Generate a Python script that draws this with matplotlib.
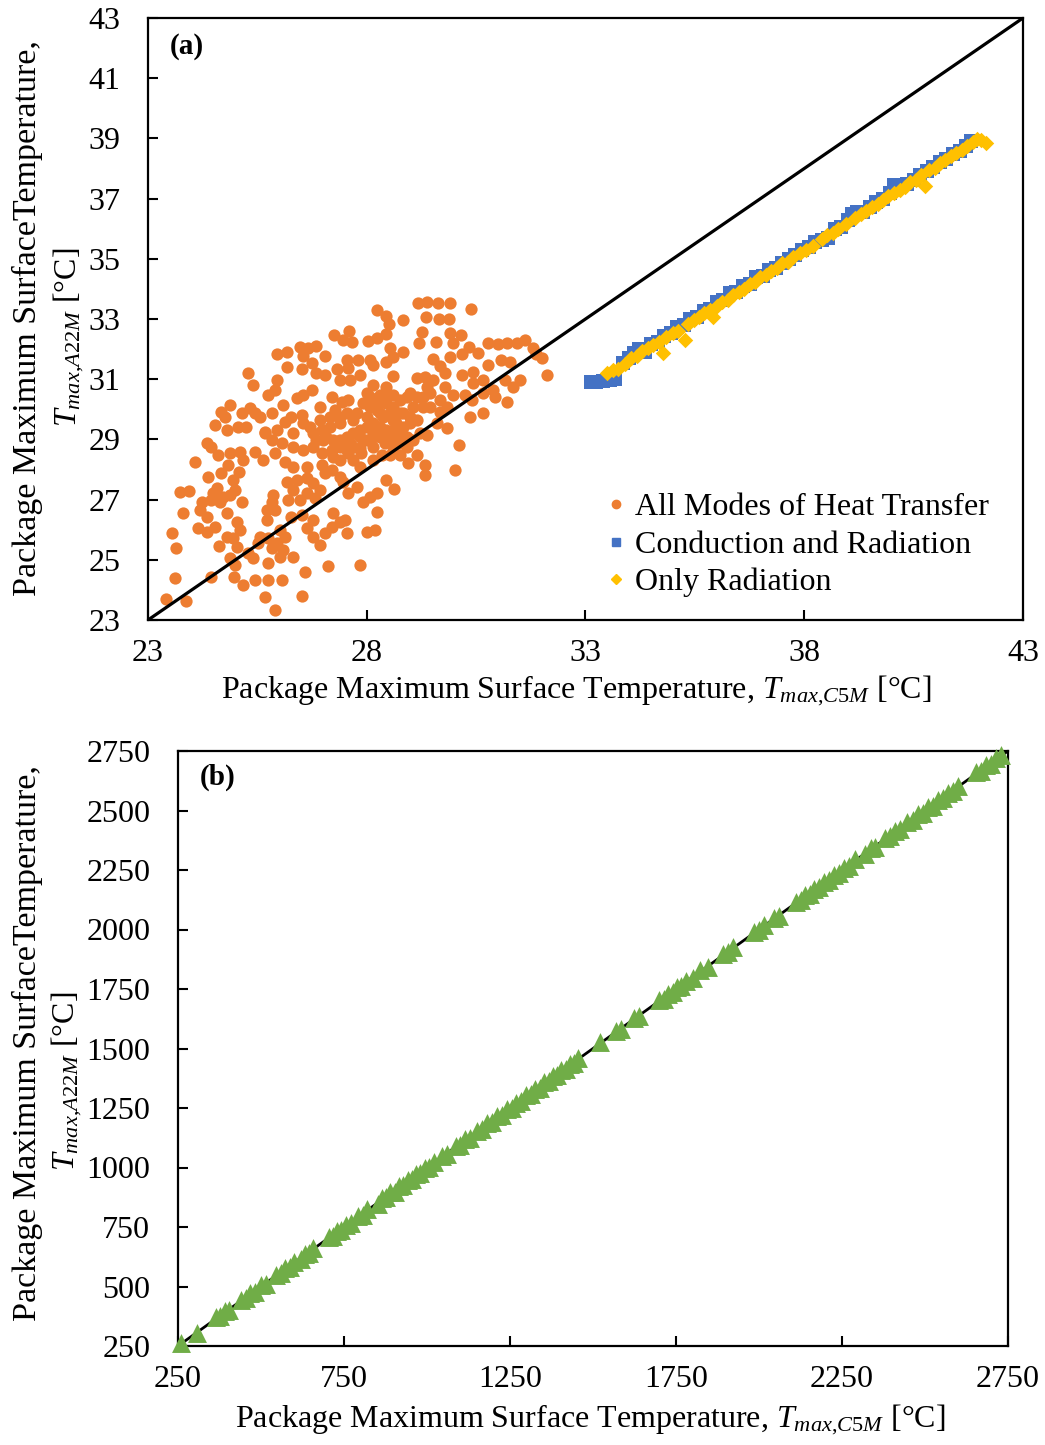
import matplotlib
matplotlib.use("Agg")
import matplotlib.pyplot as plt
from matplotlib.lines import Line2D

plt.rcParams['font.family'] = ['Liberation Serif', 'DejaVu Serif']
plt.rcParams['mathtext.fontset'] = 'custom'
plt.rcParams['mathtext.rm'] = 'Liberation Serif'
plt.rcParams['mathtext.it'] = 'Liberation Serif:italic'
plt.rcParams['mathtext.bf'] = 'Liberation Serif:bold'

# ---------------- data: panel (a) ----------------
all_modes_x = [
    29.18, 29.38, 29.62, 29.90, 30.38, 28.23, 28.44, 28.52, 28.84, 29.35,
    29.66, 29.89, 29.26, 29.90, 30.15, 27.59, 27.25, 27.46, 27.66, 28.02,
    28.24, 28.45, 29.58, 29.20, 29.98, 30.34, 30.78, 31.01, 31.20, 31.43,
    31.62, 31.81, 32.00, 32.11, 31.50, 31.35, 31.20, 30.93, 30.78, 31.08,
    30.55, 30.17, 29.90, 29.52, 29.67, 28.84, 28.53, 28.61, 28.45, 28.15,
    28.07, 27.81, 27.54, 27.58, 27.31, 27.05, 26.85, 26.66, 26.47, 25.94,
    26.17, 26.55, 26.74, 26.17, 26.51, 26.85, 27.05, 27.39, 27.62, 27.85,
    28.15, 28.61, 28.45, 29.14, 29.33, 29.52, 29.79, 30.17, 30.44, 30.66,
    30.44, 30.66, 30.40, 30.25, 29.98, 29.79, 25.29, 25.41, 25.94, 25.75,
    25.90, 26.40, 26.55, 26.74, 26.93, 27.20, 27.43, 27.58, 27.27, 26.93,
    26.70, 26.51, 26.28, 26.09, 25.83, 25.56, 25.33, 25.14, 25.45, 24.87,
    24.68, 24.53, 24.76, 24.80, 25.06, 25.25, 25.67, 25.94, 26.13, 26.32,
    26.55, 26.78, 26.97, 27.16, 27.39, 27.69, 28.00, 28.30, 28.61, 28.84,
    29.06, 29.29, 29.45, 29.67, 29.83, 29.60, 29.83, 29.37, 28.99, 28.61,
    28.42, 28.15, 27.85, 27.62, 27.39, 27.20, 26.97, 26.78, 26.55, 26.32,
    26.06, 25.83, 25.67, 25.45, 25.64, 25.90, 26.13, 26.32, 26.63, 26.97,
    27.05, 27.20, 27.39, 27.69, 27.88, 28.15, 28.34, 28.53, 28.76, 28.95,
    29.14, 29.33, 29.33, 30.02, 30.12, 30.36, 30.66, 30.89, 31.16, 31.27,
    31.88, 24.34, 24.45, 24.61, 24.87, 25.10, 25.18, 24.07, 24.38, 24.68,
    24.95, 25.08, 24.84, 24.57, 24.49, 24.72, 24.87, 24.99, 25.14, 24.65,
    24.45, 24.23, 24.19, 23.81, 23.73, 23.94, 24.34, 24.53, 24.80, 25.03,
    25.10, 24.80, 24.95, 25.03, 24.63, 24.34, 24.15, 23.54, 23.65, 23.62,
    23.41, 23.88, 24.45, 24.87, 24.99, 25.41, 25.29, 25.52, 25.56, 25.75,
    25.83, 25.94, 25.75, 26.02, 26.09, 26.13, 26.32, 26.06, 25.75, 25.45,
    25.18, 24.97, 25.67, 25.90, 26.60, 26.53, 27.12, 27.85, 26.63, 26.78,
    26.93, 27.05, 27.20, 27.39, 27.54, 27.50, 27.24, 26.78, 26.51, 26.28,
    26.21, 26.47, 26.63, 26.82, 26.93, 26.78, 26.63, 26.40, 26.17, 26.32,
    25.86, 25.83, 25.71, 25.90, 25.71, 26.02, 27.46, 27.58, 27.77, 27.92,
    28.07, 28.23, 28.23, 28.00, 28.19, 28.45, 28.62, 27.85, 27.58, 28.15,
    28.30, 28.45, 28.61, 28.76, 28.91, 28.07, 28.23, 28.38, 28.53, 28.68,
    28.84, 28.99, 28.15, 28.30, 28.45, 28.61, 28.76, 28.91, 28.00, 27.85,
    27.69, 27.54, 27.39, 27.24, 27.08, 27.24, 27.39, 27.54, 27.69, 28.00,
    28.15, 28.30, 27.85, 28.15, 27.77, 27.54, 27.39, 27.16, 27.01, 26.85,
    29.14, 29.22, 29.06, 28.91, 28.76, 28.61, 28.45, 28.76, 29.29, 29.14,
    28.99, 29.37, 29.45, 29.67, 28.61, 28.45, 28.30, 28.07, 27.92, 28.00,
]
all_modes_y = [
    33.52, 33.57, 33.52, 33.54, 33.32, 33.30, 33.10, 32.83, 32.97, 33.06,
    32.99, 33.00, 32.56, 32.55, 32.47, 32.61, 32.47, 32.30, 32.24, 32.28,
    32.36, 32.50, 32.23, 32.21, 32.19, 32.08, 32.21, 32.17, 32.21, 32.19,
    32.30, 32.03, 31.69, 31.14, 30.97, 30.75, 30.25, 30.42, 31.47, 31.64,
    31.86, 31.83, 31.73, 31.66, 31.44, 31.92, 32.03, 31.73, 31.58, 31.47,
    31.64, 31.64, 31.64, 31.36, 31.33, 31.77, 32.10, 32.03, 32.08, 31.83,
    31.92, 31.77, 31.53, 31.40, 31.33, 31.20, 31.14, 30.97, 30.97, 31.14,
    30.81, 31.11, 30.75, 31.03, 31.06, 30.97, 31.20, 31.14, 31.25, 30.97,
    30.86, 30.53, 30.31, 30.48, 30.48, 30.75, 31.20, 30.81, 30.97, 30.48,
    30.64, 30.37, 30.48, 30.64, 30.09, 30.42, 30.25, 30.31, 29.98, 29.65,
    29.42, 29.81, 29.76, 30.14, 29.87, 29.76, 30.03, 29.87, 29.87, 30.14,
    29.92, 29.48, 29.76, 29.31, 29.42, 29.42, 29.26, 29.31, 29.59, 29.20,
    29.53, 29.20, 29.31, 29.42, 29.53, 29.65, 29.76, 29.87, 29.65, 29.87,
    30.09, 30.42, 30.09, 29.92, 30.09, 29.53, 29.37, 29.15, 29.53, 29.09,
    28.87, 28.76, 28.70, 28.87, 28.98, 28.65, 28.54, 28.76, 28.65, 28.76,
    28.87, 28.98, 29.20, 28.59, 28.32, 28.54, 28.26, 28.09, 28.09, 28.15,
    27.87, 27.98, 27.76, 28.32, 28.54, 28.32, 28.48, 28.48, 28.48, 28.21,
    28.48, 28.15, 27.82, 27.98, 28.81, 29.76, 29.87, 30.64, 30.97, 31.58,
    31.83, 28.87, 28.76, 28.48, 28.54, 28.59, 28.32, 28.26, 27.76, 27.87,
    27.65, 27.93, 28.15, 27.37, 27.21, 27.10, 27.15, 27.32, 26.93, 26.93,
    26.99, 26.93, 26.65, 26.54, 27.26, 27.30, 26.43, 26.10, 26.54, 26.27,
    25.99, 25.77, 25.71, 25.44, 25.46, 25.93, 26.05, 25.88, 25.38, 24.38,
    23.69, 23.64, 24.44, 25.05, 24.83, 25.05, 25.22, 25.55, 25.77, 25.71,
    25.38, 25.55, 24.88, 25.10, 25.33, 25.77, 25.10, 24.33, 24.33, 24.33,
    24.16, 24.44, 23.78, 23.33, 24.61, 23.80, 24.80, 24.83, 26.05, 25.77,
    25.49, 25.88, 26.10, 26.27, 25.88, 26.32, 26.54, 26.32, 26.49, 26.43,
    26.99, 26.99, 27.21, 27.04, 27.32, 27.54, 27.71, 27.65, 27.60, 27.32,
    27.15, 26.93, 26.65, 26.65, 26.32, 25.99, 27.60, 27.21, 27.43, 26.93,
    27.10, 27.21, 26.60, 25.93, 25.99, 27.65, 27.34, 28.09, 28.54, 30.31,
    30.31, 30.20, 30.09, 30.31, 30.42, 30.09, 29.98, 29.76, 29.87, 29.53,
    29.42, 29.76, 29.53, 29.42, 29.31, 29.31, 29.20, 29.09, 29.42, 29.31,
    29.20, 29.09, 28.76, 28.98, 29.09, 28.43, 28.32, 28.65, 28.76, 28.98,
    29.09, 29.09, 29.09, 29.20, 29.87, 29.87, 29.76, 29.76, 28.98, 28.98,
    29.65, 29.20, 28.98, 28.76, 28.87, 28.76, 28.98, 29.87, 30.09, 30.42,
    30.53, 30.75, 30.53, 30.31, 30.48, 30.42, 30.48, 30.42, 30.20, 30.53,
]

cond_rad_x = [
    33.12, 33.25, 33.40, 33.55, 33.68, 33.85, 34.00, 34.10, 34.22, 34.35,
    34.50, 34.65, 34.80, 34.95, 35.10, 35.25, 35.40, 35.55, 35.70, 35.85,
    36.00, 36.15, 36.30, 36.45, 36.60, 36.75, 36.90, 37.05, 37.20, 37.35,
    37.50, 37.65, 37.80, 37.95, 38.10, 38.25, 38.40, 38.55, 38.70, 38.85,
    39.00, 39.10, 39.20, 39.35, 39.50, 39.65, 39.80, 39.95, 40.05, 40.20,
    40.35, 40.50, 40.65, 40.80, 40.95, 41.10, 41.25, 41.40, 41.55, 41.70,
    41.82,
]
cond_rad_y = [
    30.90, 30.92, 30.94, 30.97, 31.02, 31.55, 31.72, 31.88, 32.00, 31.92,
    32.18, 32.24, 32.45, 32.52, 32.72, 32.80, 33.00, 33.06, 33.28, 33.34,
    33.55, 33.62, 33.86, 33.90, 34.10, 34.16, 34.40, 34.44, 34.62, 34.70,
    34.86, 34.98, 35.12, 35.30, 35.38, 35.55, 35.62, 35.70, 35.98, 36.05,
    36.28, 36.50, 36.55, 36.55, 36.72, 36.90, 37.00, 37.20, 37.45, 37.42,
    37.50, 37.62, 37.80, 37.92, 38.05, 38.22, 38.30, 38.48, 38.58, 38.75,
    38.92,
]

radiation_x = [
    33.50, 33.62, 33.75, 33.90, 34.05, 34.18, 34.30, 34.42, 34.55, 34.68,
    34.77, 34.85, 35.00, 35.12, 35.27, 35.35, 35.48, 35.60, 35.72, 35.85,
    35.91, 36.00, 36.12, 36.25, 36.38, 36.50, 36.62, 36.75, 36.88, 37.00,
    37.12, 37.25, 37.38, 37.50, 37.62, 37.75, 37.90, 38.05, 38.20, 38.40,
    38.52, 38.65, 38.78, 38.95, 39.15, 39.30, 39.42, 39.55, 39.68, 39.80,
    39.92, 40.05, 40.18, 40.30, 40.42, 40.55, 40.68, 40.76, 40.85, 40.98,
    41.10, 41.22, 41.35, 41.48, 41.60, 41.72, 41.85, 41.95, 42.05, 42.15,
]
radiation_y = [
    31.22, 31.30, 31.35, 31.50, 31.70, 31.78, 31.95, 32.02, 32.15, 32.22,
    31.87, 32.40, 32.55, 32.60, 32.30, 32.85, 32.98, 33.05, 33.20, 33.30,
    33.07, 33.42, 33.55, 33.62, 33.80, 33.90, 34.00, 34.15, 34.22, 34.38,
    34.45, 34.60, 34.70, 34.85, 34.90, 35.05, 35.18, 35.30, 35.42, 35.65,
    35.80, 35.85, 36.00, 36.15, 36.35, 36.50, 36.60, 36.72, 36.82, 36.95,
    37.08, 37.18, 37.30, 37.40, 37.55, 37.62, 37.78, 37.42, 37.95, 38.02,
    38.18, 38.28, 38.40, 38.52, 38.62, 38.75, 38.88, 38.98, 38.95, 38.85,
]

# ---------------- data: panel (b) ----------------
high_c5m = [
    258, 308, 365, 378, 392, 405, 440, 455, 468, 482,
    500, 514, 545, 560, 573, 587, 600, 620, 633, 646,
    658, 705, 718, 730, 742, 755, 770, 792, 806, 820,
    852, 865, 878, 890, 903, 916, 929, 942, 955, 968,
    980, 993, 1006, 1020, 1045, 1060, 1088, 1100, 1113, 1130,
    1150, 1165, 1180, 1195, 1210, 1225, 1240, 1255, 1268, 1283,
    1298, 1312, 1326, 1340, 1353, 1366, 1379, 1392, 1405, 1418,
    1430, 1443, 1455, 1522, 1568, 1584, 1622, 1640, 1700, 1713,
    1726, 1740, 1753, 1766, 1780, 1802, 1823, 1845, 1893, 1908,
    1922, 1985, 2000, 2015, 2045, 2060, 2112, 2126, 2140, 2153,
    2167, 2181, 2195, 2210, 2225, 2240, 2255, 2270, 2290, 2320,
    2336, 2350, 2380, 2395, 2410, 2426, 2445, 2465, 2480, 2495,
    2510, 2525, 2540, 2555, 2570, 2585, 2600, 2655, 2670, 2685,
    2700, 2714, 2728,
]
high_a22m = [
    262, 305, 370, 375, 396, 402, 444, 452, 472, 478,
    505, 510, 548, 556, 578, 583, 604, 616, 638, 642,
    662, 708, 714, 735, 738, 760, 766, 797, 802, 826,
    848, 870, 874, 895, 899, 921, 925, 947, 951, 973,
    976, 998, 1002, 1025, 1049, 1056, 1092, 1096, 1118, 1126,
    1155, 1161, 1185, 1191, 1215, 1221, 1245, 1251, 1273, 1279,
    1303, 1308, 1331, 1336, 1358, 1362, 1384, 1388, 1410, 1414,
    1435, 1439, 1460, 1527, 1573, 1580, 1627, 1636, 1705, 1709,
    1731, 1736, 1758, 1762, 1785, 1798, 1828, 1841, 1898, 1904,
    1927, 1990, 1996, 2020, 2050, 2056, 2117, 2122, 2145, 2149,
    2172, 2177, 2200, 2206, 2230, 2236, 2260, 2266, 2295, 2316,
    2341, 2346, 2385, 2391, 2415, 2422, 2450, 2461, 2485, 2491,
    2515, 2521, 2545, 2551, 2575, 2581, 2605, 2660, 2666, 2690,
    2696, 2719, 2733,
]

a_ticks_x = [23, 28, 33, 38, 43]
a_ticks_y = [23, 25, 27, 29, 31, 33, 35, 37, 39, 41, 43]
b_ticks = [250, 750, 1250, 1750, 2250, 2750]
b_ticks_y = [250, 500, 750, 1000, 1250, 1500, 1750, 2000, 2250, 2500, 2750]

ORANGE = '#ED7D31'
BLUE = '#4472C4'
GOLD = '#FFC000'
GREEN = '#70AD47'
FS = 23

W, H = 1045, 1445
fig = plt.figure(figsize=(W / 100, H / 100), dpi=100)
ax1 = fig.add_axes([148 / W, 1 - 620 / H, 875 / W, 602 / H])
ax2 = fig.add_axes([178 / W, 1 - 1346 / H, 830 / W, 595 / H])

for ax in (ax1, ax2):
    for sp in ax.spines.values():
        sp.set_linewidth(1.6)
        sp.set_color('black')
    ax.tick_params(axis='both', direction='in', length=7, width=1.5,
                   labelsize=FS, top=False, right=False)
    ax.tick_params(axis='y', pad=20)
    ax.tick_params(axis='x', pad=14)

# panel (a)
ax1.set_xlim(23, 43)
ax1.set_ylim(23, 43)
ax1.set_xticks(a_ticks_x)
ax1.set_yticks(a_ticks_y)
ax1.scatter(all_modes_x, all_modes_y, s=78, marker='o', color=ORANGE,
            linewidths=0, zorder=2)
ax1.plot([23, 43], [23, 43], color='black', lw=2.3, zorder=3)
ax1.scatter(cond_rad_x, cond_rad_y, s=90, marker='s', color=BLUE,
            linewidths=0, zorder=4)
ax1.scatter(radiation_x, radiation_y, s=62, marker='D', color=GOLD,
            linewidths=0, zorder=5)
ax1.text(0.025, 0.953, '(a)', transform=ax1.transAxes, fontsize=21,
         fontweight='bold', ha='left', va='center')

handles = [
    Line2D([], [], ls='none', marker='o', color=ORANGE, markersize=6),
    Line2D([], [], ls='none', marker='s', color=BLUE, markersize=6),
    Line2D([], [], ls='none', marker='D', color=GOLD, markersize=5),
]
labels = ['All Modes of Heat Transfer', 'Conduction and Radiation', 'Only Radiation']
ax1.legend(handles, labels, loc='upper left',
           bbox_to_anchor=((606 - 148) / 875, (620 - 493) / 602),
           frameon=False, fontsize=FS, handlelength=0.6, handletextpad=0.3,
           labelspacing=0.25, borderpad=0, borderaxespad=0)

# panel (b)
ax2.set_xlim(250, 2750)
ax2.set_ylim(250, 2750)
ax2.set_xticks(b_ticks)
ax2.set_yticks(b_ticks_y)
ax2.plot([250, 2750], [250, 2750], color='black', lw=2.0, zorder=2)
ax2.scatter(high_c5m, high_a22m, s=185, marker='^', color=GREEN,
            linewidths=0, zorder=3, clip_on=False)
ax2.text(0.0265, 0.956, '(b)', transform=ax2.transAxes, fontsize=21,
         fontweight='bold', ha='left', va='center')

# axis titles
line1 = 'Package Maximum SurfaceTemperature,'
line2 = r'$T_{max{,}A22M}$ [°C]'
xlab = r'Package Maximum Surface Temperature, $T_{max{,}C5M}$ [°C]'
YFS = 24.5

fig.text(27 / W, 1 - 318 / H, line1, rotation=90, fontsize=YFS, ha='center', va='center')
fig.text(69 / W, 1 - 337 / H, line2, rotation=90, fontsize=FS, ha='center', va='center')
fig.text(576 / W, 1 - 691 / H, xlab, fontsize=FS, ha='center', va='center')

fig.text(27 / W, 1 - 1043 / H, line1, rotation=90, fontsize=YFS, ha='center', va='center')
fig.text(67 / W, 1 - 1081 / H, line2, rotation=90, fontsize=FS, ha='center', va='center')
fig.text(590 / W, 1 - 1420 / H, xlab, fontsize=FS, ha='center', va='center')

fig.savefig('out.png', dpi=100)
